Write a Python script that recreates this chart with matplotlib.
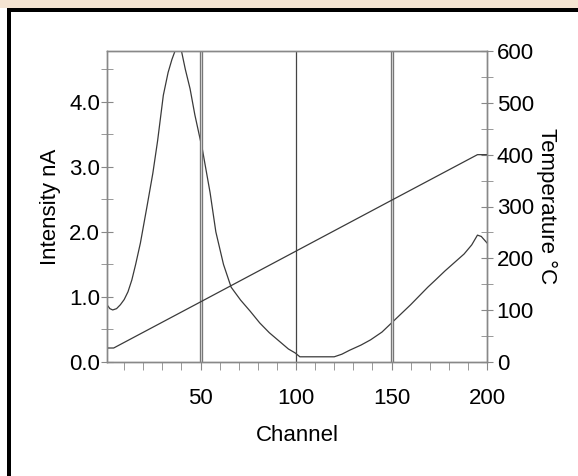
import matplotlib.pyplot as plt
from matplotlib.patches import Rectangle
from matplotlib.ticker import MultipleLocator

plt.rcParams["font.family"] = ["Liberation Sans", "DejaVu Sans"]

# intensity trace (nA) against channel
chan_i = [1, 2.5, 4, 6, 8, 10, 12, 14, 16, 18.5, 22, 25, 27.5, 30.5, 33, 35, 37.5,
          39.5, 42, 44.5, 47, 51, 55, 58, 62, 66, 71, 76, 81, 86, 92, 96, 99.5,
          102, 110, 120, 124, 128, 134, 139, 145, 150, 155, 160, 165, 169, 173,
          178, 183, 188, 192, 195, 197, 200]
intensity = [0.88, 0.82, 0.80, 0.82, 0.88, 0.96, 1.08, 1.26, 1.5, 1.83, 2.4, 2.9,
             3.4, 4.1, 4.45, 4.65, 4.85, 4.85, 4.5, 4.2, 3.8, 3.26, 2.6, 2.0, 1.5,
             1.15, 0.95, 0.78, 0.6, 0.45, 0.3, 0.2, 0.14, 0.08, 0.08, 0.08, 0.12,
             0.18, 0.26, 0.34, 0.46, 0.6, 0.74, 0.88, 1.03, 1.15, 1.26, 1.4, 1.53,
             1.66, 1.8, 1.95, 1.93, 1.83]

# temperature ramp (deg C) against channel
chan_t = [1, 4.5, 50, 100, 150, 195, 200]
temperature = [27, 27, 116, 214, 312, 400, 400]

# marked channels
marks = [50, 100, 150]

fig = plt.figure(figsize=(5.78, 4.76), dpi=100)
fig.patch.set_facecolor("white")

# scan frame: peach strip, black border
fig.add_artist(Rectangle((0, 1 - 8 / 476), 1, 8 / 476, transform=fig.transFigure,
                         facecolor="#f4e4d2", edgecolor="none"))
fig.add_artist(Rectangle((7 / 578, 0), 4 / 578, 1 - 8 / 476, transform=fig.transFigure,
                         facecolor="black", edgecolor="none"))
fig.add_artist(Rectangle((7 / 578, 1 - 12 / 476), 1, 4 / 476, transform=fig.transFigure,
                         facecolor="black", edgecolor="none"))

ax = fig.add_axes([107 / 578, 114 / 476, 380 / 578, 311 / 476])
ax2 = ax.twinx()

grey = "#888888"
for a in (ax, ax2):
    for s in a.spines.values():
        s.set_color(grey)
        s.set_linewidth(1.0)

ax.plot(chan_i, intensity, color="#3a3a3a", lw=0.9)
ax2.plot(chan_t, temperature, color="#3a3a3a", lw=0.9)

for m in marks:
    if m == 100:
        ax.axvline(m, color="#444444", lw=0.9)
    else:
        ax.axvline(m, color="#777777", lw=2.4)
        ax.axvline(m, color="#dddddd", lw=0.6)

ax.set_xlim(1, 200)
ax.set_ylim(0, 4.78)
ax2.set_ylim(0, 600)

ax.xaxis.set_major_locator(MultipleLocator(50))
ax.xaxis.set_minor_locator(MultipleLocator(10))
ax.yaxis.set_major_locator(MultipleLocator(1.0))
ax.yaxis.set_minor_locator(MultipleLocator(0.5))
ax2.yaxis.set_major_locator(MultipleLocator(100))
ax2.yaxis.set_minor_locator(MultipleLocator(50))
ax.yaxis.set_major_formatter(lambda v, p: f"{v:.1f}")
ax.xaxis.set_major_formatter(lambda v, p: f"{v:.0f}" if v > 0 else "")

ax.tick_params(axis="x", which="both", direction="out", length=6, color=grey,
               labelsize=16, pad=13)
ax.tick_params(axis="y", which="both", direction="inout", length=8, color=grey,
               labelsize=16, pad=1)
ax2.tick_params(axis="y", which="both", direction="inout", length=8, color=grey,
                labelsize=16, pad=3)

ax.set_xlabel("Channel", fontsize=16, labelpad=11)
ax.set_ylabel("Intensity nA", fontsize=16, labelpad=6)
ax2.set_ylabel("Temperature °C", fontsize=16, rotation=-90, labelpad=17)

fig.savefig("out.png", dpi=100)
